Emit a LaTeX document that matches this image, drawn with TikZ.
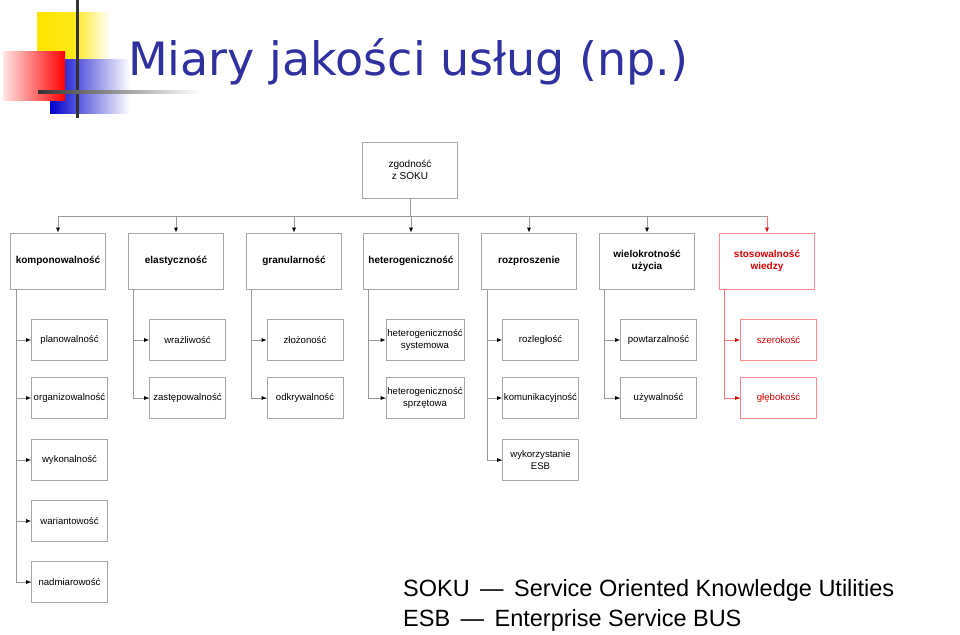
\documentclass[tikz,border=0pt]{standalone}
\usepackage{fontspec}
\setmainfont{Liberation Sans}
\newfontfamily\titlefont{DejaVu Sans}
\begin{document}
\begin{tikzpicture}[x=1pt,y=-1pt,
  lbox/.style={draw=gray!70,line width=0.7pt,minimum width=95pt,minimum height=56pt,align=center,font=\fontsize{10}{11.5}\selectfont\bfseries,inner sep=1pt},
  sbox/.style={draw=gray!70,line width=0.7pt,minimum width=76pt,minimum height=41pt,align=center,font=\fontsize{9.6}{11.5}\selectfont,inner sep=1pt},
  red/.style={draw=red!45,text=red!85!black},
  con/.style={draw=gray!80,line width=0.8pt},
  arr/.style={con,-{Latex[black,length=5pt,width=4pt]}},
  rcon/.style={draw=red!55,line width=0.8pt},
  rarr/.style={rcon,-{Latex[red!80!black,length=5pt,width=4pt]}}]
\usetikzlibrary{arrows.meta}
\useasboundingbox (0,0) rectangle (960,634);
% logo
\shade[left color=yellow!80!orange,right color=white,middle color=yellow!80!orange!90] (37,13) rectangle (110,60);
\shade[left color=blue!80!black,right color=white] (50,60) rectangle (130,113);
\shade[left color=red!10,right color=red] (3,52) rectangle (65,100);
\draw[line width=3pt,black!80] (77,0) -- (77,118);
\shade[left color=black!80,right color=white] (38,90.5) rectangle (200,93.5);
\node[anchor=base west,inner sep=0,font=\titlefont\fontsize{46}{50}\selectfont,text={rgb,255:red,48;green,48;blue,160}] (title) at (128,75) {Miary jakości usług (np.)};
% top
\node[lbox,font=\fontsize{10}{11.5}\selectfont] (top) at (410,170) {zgodność\\z SOKU};
\node[lbox] (a1) at (58,261) {komponowalność};
\node[lbox] (a2) at (176,261) {elastyczność};
\node[lbox] (a3) at (294,261) {granularność};
\node[lbox] (a4) at (411,261) {heterogeniczność};
\node[lbox] (a5) at (529,261) {rozproszenie};
\node[lbox] (a6) at (647,261) {wielokrotność\\użycia};
\node[lbox,red] (a7) at (767,261) {stosowalność\\wiedzy};
\coordinate (bus) at (410,216);
\draw[con] (top.south) -- (bus);
\draw[con] (a1.north|-bus) -- (a7.north|-bus);
\foreach \n in {a1,a2,a3,a4,a5,a6} \draw[arr] (\n.north|-bus) -- (\n.north);
\draw[rarr] (a7.north|-bus) -- (a7.north);
% level 3
\node[sbox] (b1) at (69.5,340) {planowalność};
\node[sbox] (c1) at (69.5,398) {organizowalność};
\node[sbox] (d1) at (69.5,460) {wykonalność};
\node[sbox] (e1) at (69.5,521) {wariantowość};
\node[sbox] (f1) at (69.5,582) {nadmiarowość};
\node[sbox] (b2) at (187.5,340) {wrażliwość};
\node[sbox] (c2) at (187.5,398) {zastępowalność};
\node[sbox] (b3) at (305,340) {złożoność};
\node[sbox] (c3) at (305,398) {odkrywalność};
\node[sbox,minimum width=78pt] (b4) at (425,340) {heterogeniczność\\systemowa};
\node[sbox,minimum width=78pt] (c4) at (425,398) {heterogeniczność\\sprzętowa};
\node[sbox] (b5) at (540.5,340) {rozległość};
\node[sbox] (c5) at (540.5,398) {komunikacyjność};
\node[sbox] (d5) at (540.5,460) {wykorzystanie\\ESB};
\node[sbox] (b6) at (658.5,340) {powtarzalność};
\node[sbox] (c6) at (658.5,398) {używalność};
\node[sbox,red] (b7) at (778.5,340) {szerokość};
\node[sbox,red] (c7) at (778.5,398) {głębokość};
\foreach \p/\last in {16/f1,133/c2,251/c3,368/c4,487/d5,604/c6}{
  \draw[con] (\p,289) |- (\last.west);
}
\foreach \p/\ch in {16/b1,16/c1,16/d1,16/e1,16/f1,133/b2,133/c2,251/b3,251/c3,368/b4,368/c4,487/b5,487/c5,487/d5,604/b6,604/c6}{
  \draw[arr] (\p,0 |- \ch.west) -- (\ch.west);
}
\draw[rcon] (724,289) |- (c7.west);
\draw[rarr] (724,0 |- b7.west) -- (b7.west);
\draw[rarr] (724,0 |- c7.west) -- (c7.west);
% legend
\node[anchor=base west,inner sep=0,font=\fontsize{23.5}{26}\selectfont] (l1) at (403,596) {SOKU \,—\, Service Oriented Knowledge Utilities};
\node[anchor=base west,inner sep=0,font=\fontsize{23.5}{26}\selectfont] (l2) at (403,626) {ESB \,—\, Enterprise Service BUS};
\end{tikzpicture}
\end{document}
